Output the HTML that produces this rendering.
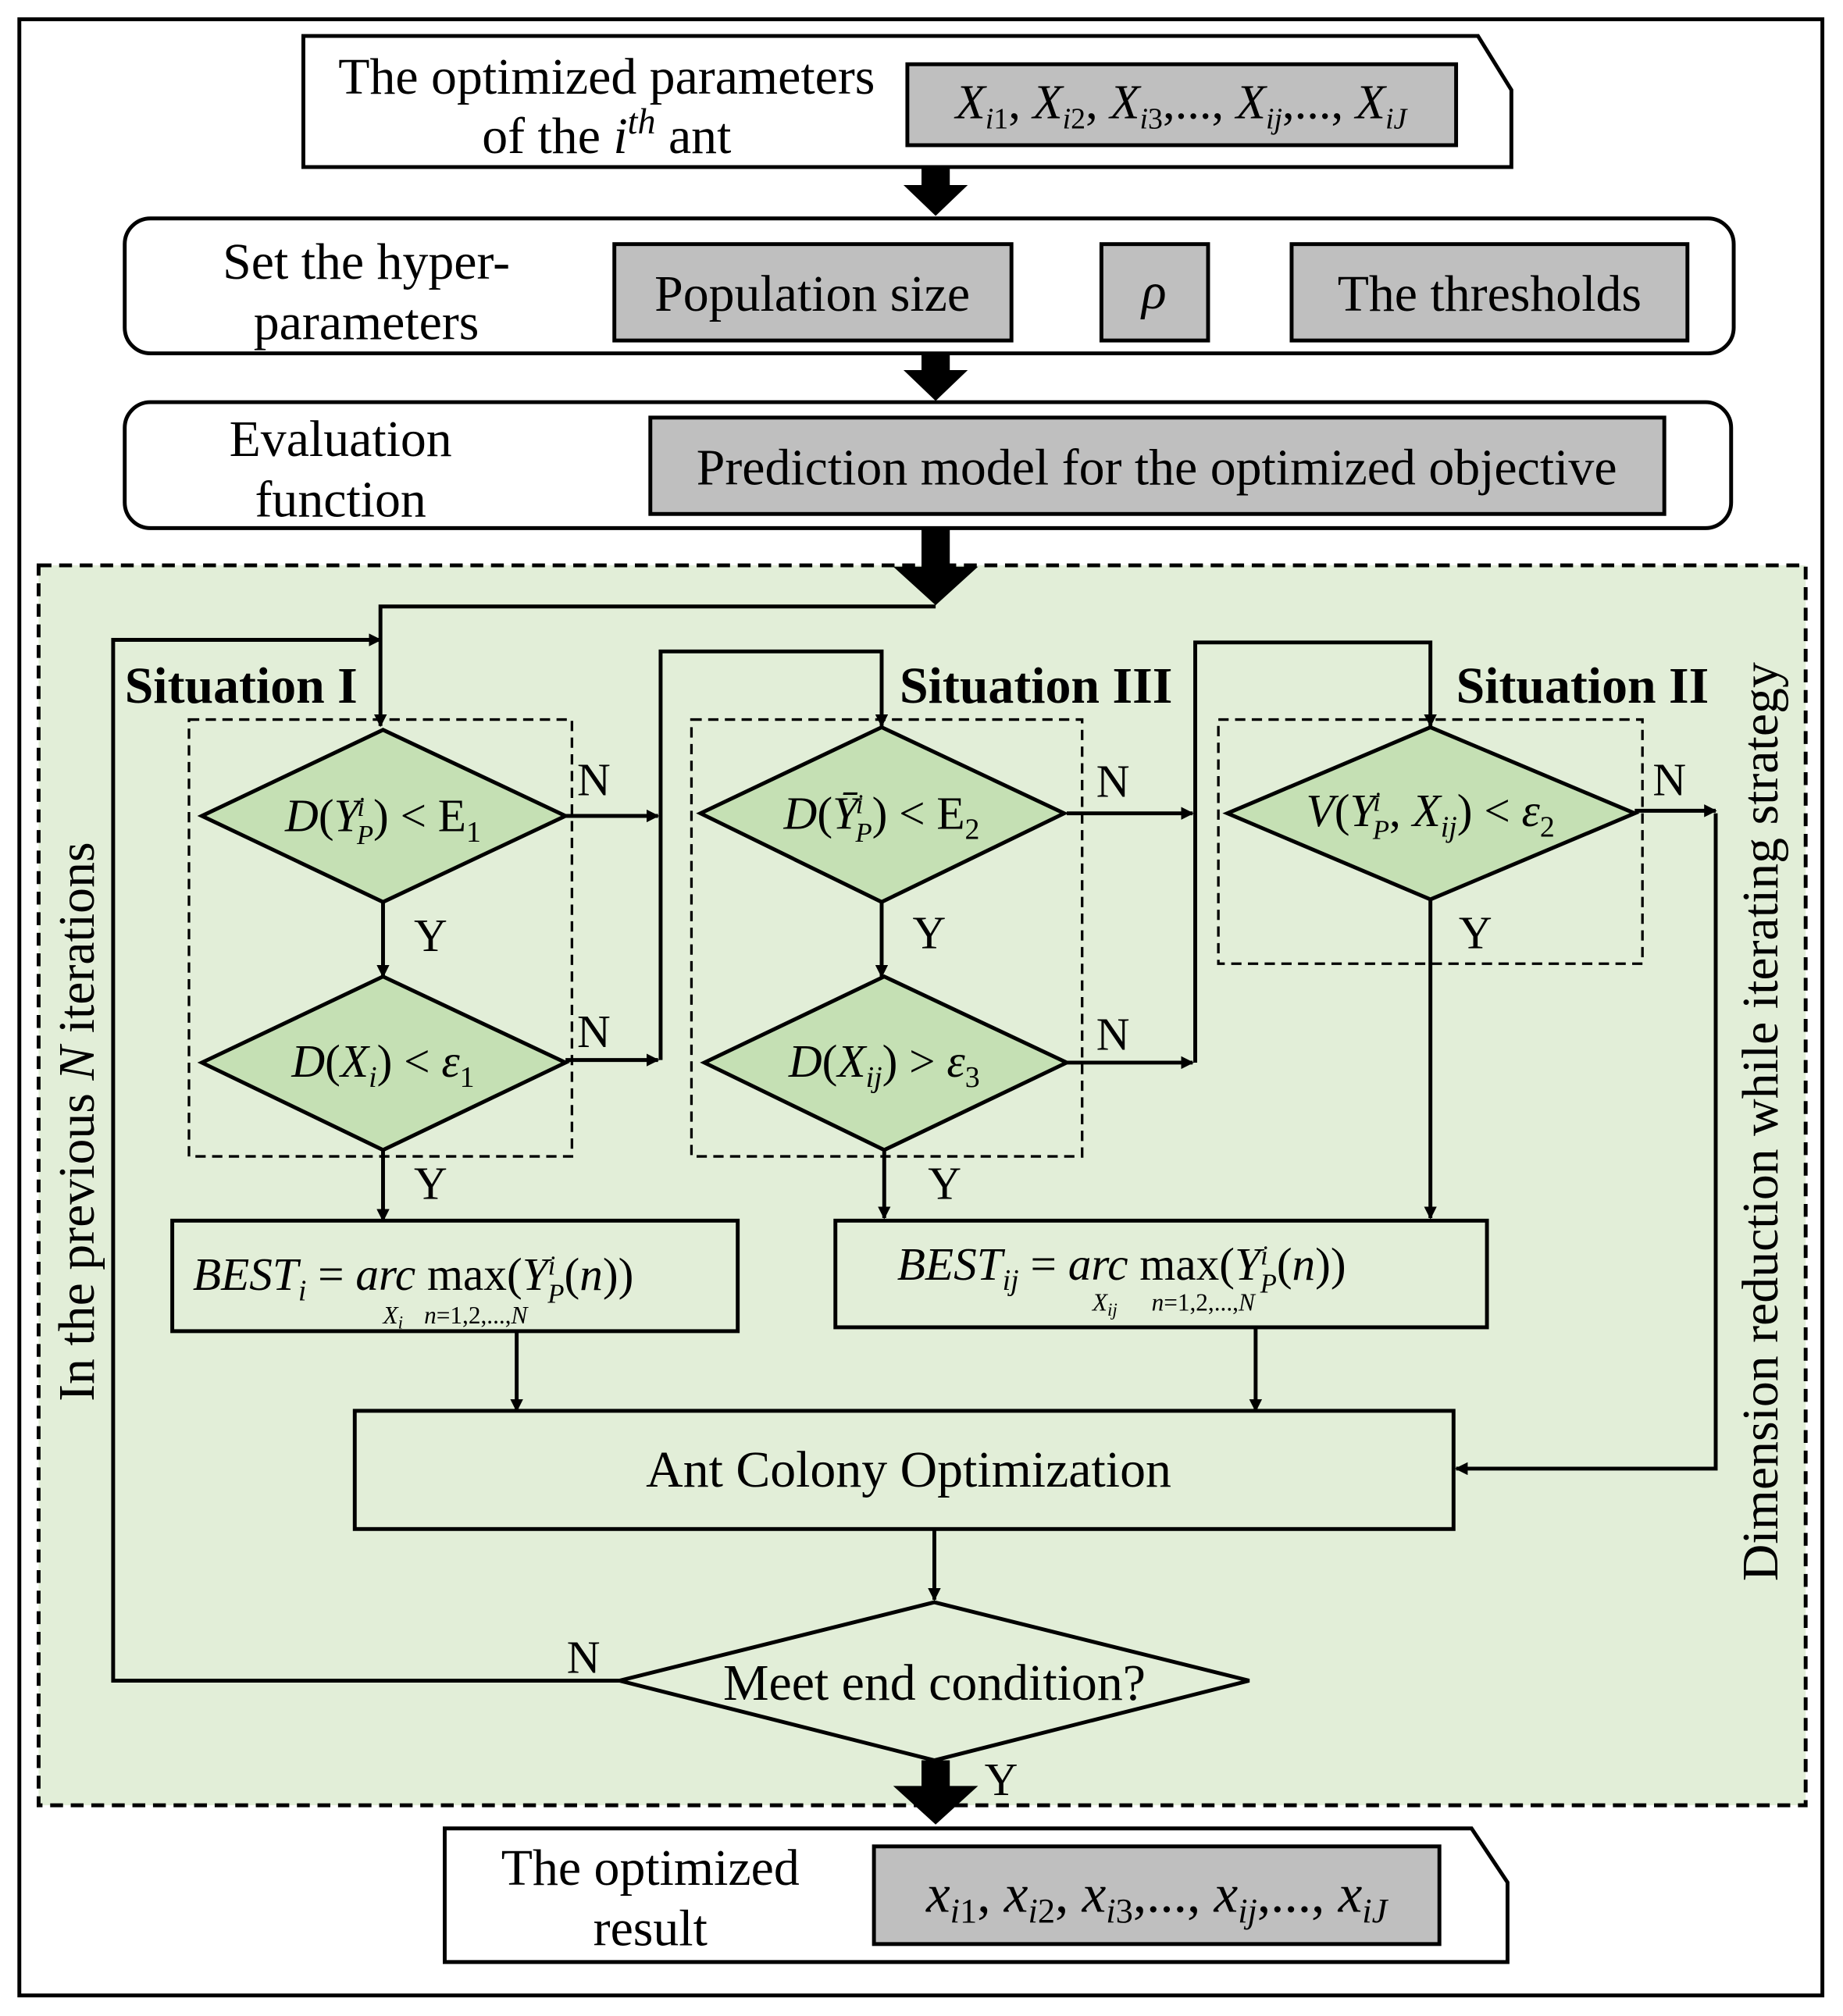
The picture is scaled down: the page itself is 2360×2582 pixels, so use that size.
<!DOCTYPE html>
<html><head><meta charset="utf-8"><style>
html,body{margin:0;padding:0;background:#fff}
svg{display:block}
text{font-family:"Liberation Serif",serif;fill:#000}
</style></head><body>
<svg width="2360" height="2582" viewBox="0 0 1434 1569" xmlns="http://www.w3.org/2000/svg">
<defs>
<marker id="a" markerWidth="10" markerHeight="10" refX="9" refY="5" orient="auto" markerUnits="userSpaceOnUse" viewBox="0 0 10 10">
<path d="M0,0 L10,5 L0,10 z" fill="#000"/></marker>
</defs>
<rect x="0" y="0" width="1434" height="1569" fill="#fff"/>
<rect x="15" y="15" width="1403" height="1538" fill="none" stroke="#000" stroke-width="3"/>

<path d="M236,28 L1150,28 L1176,70 L1176,130 L236,130 Z" fill="#fff" stroke="#000" stroke-width="3"/>
<text x="472" y="73" font-size="40" text-anchor="middle">The optimized parameters</text>
<text x="472" y="119" font-size="40" text-anchor="middle">of the <tspan font-style="italic">i</tspan><tspan font-style="italic" font-size="28" dy="-15">th</tspan><tspan dy="15"> ant</tspan></text>
<rect x="706" y="50" width="427" height="63" fill="#bfbfbf" stroke="#000" stroke-width="3"/>
<text x="919" y="92" font-size="38" text-anchor="middle" font-style="italic">X<tspan font-size="23" dy="8">i</tspan><tspan font-size="23" font-style="normal">1</tspan><tspan dy="-8" font-style="normal">, </tspan>X<tspan font-size="23" dy="8">i</tspan><tspan font-size="23" font-style="normal">2</tspan><tspan dy="-8" font-style="normal">, </tspan>X<tspan font-size="23" dy="8">i</tspan><tspan font-size="23" font-style="normal">3</tspan><tspan dy="-8" font-style="normal">,..., </tspan>X<tspan font-size="23" dy="8">ij</tspan><tspan dy="-8" font-style="normal">,..., </tspan>X<tspan font-size="23" dy="8">iJ</tspan></text>

<path d="M717,130 h22 v14 h14 l-25,24 l-25,-24 h14 z" fill="#000"/>
<path d="M717,275 h22 v13 h14 l-25,24 l-25,-24 h14 z" fill="#000"/>

<rect x="97" y="170" width="1252" height="105" rx="20" fill="#fff" stroke="#000" stroke-width="3"/>
<text x="285" y="217" font-size="40" text-anchor="middle">Set the hyper-</text>
<text x="285" y="264" font-size="40" text-anchor="middle">parameters</text>
<rect x="478" y="190" width="309" height="75" fill="#bfbfbf" stroke="#000" stroke-width="3"/>
<text x="632" y="242" font-size="40" text-anchor="middle">Population size</text>
<rect x="857" y="190" width="83" height="75" fill="#bfbfbf" stroke="#000" stroke-width="3"/>
<text x="898" y="240" font-size="40" text-anchor="middle" font-style="italic">ρ</text>
<rect x="1005" y="190" width="308" height="75" fill="#bfbfbf" stroke="#000" stroke-width="3"/>
<text x="1159" y="242" font-size="40" text-anchor="middle">The thresholds</text>

<rect x="97" y="313" width="1250" height="98" rx="20" fill="#fff" stroke="#000" stroke-width="3"/>
<text x="265" y="355" font-size="40" text-anchor="middle">Evaluation</text>
<text x="265" y="402" font-size="40" text-anchor="middle">function</text>
<rect x="506" y="325" width="789" height="75" fill="#bfbfbf" stroke="#000" stroke-width="3"/>
<text x="900" y="377" font-size="40" text-anchor="middle">Prediction model for the optimized objective</text>

<rect x="30" y="440" width="1375" height="965" fill="#e2eed8" stroke="#000" stroke-width="3" stroke-dasharray="10,6"/>
<path d="M717,411 h22 v30 h22 l-33,30 l-33,-30 h22 z" fill="#000"/>

<g stroke="#000" stroke-width="3" fill="none">
<polyline points="728,472 296,472 296,565" marker-end="url(#a)"/>
<polyline points="482,1308 88,1308 88,498 296,498" marker-end="url(#a)"/>
<rect x="147" y="560" width="298" height="340" stroke-dasharray="8,5" stroke-width="2"/>
<line x1="298" y1="702" x2="298" y2="760" marker-end="url(#a)"/>
<line x1="298" y1="895" x2="298" y2="950" marker-end="url(#a)"/>
<line x1="440" y1="635" x2="512" y2="635" marker-end="url(#a)"/>
<line x1="440" y1="825" x2="512" y2="825" marker-end="url(#a)"/>
<polyline points="514,825 514,507 686,507 686,565" marker-end="url(#a)"/>
<rect x="538" y="560" width="304" height="340" stroke-dasharray="8,5" stroke-width="2"/>
<line x1="686" y1="702" x2="686" y2="760" marker-end="url(#a)"/>
<line x1="688" y1="895" x2="688" y2="948" marker-end="url(#a)"/>
<line x1="830" y1="633" x2="928" y2="633" marker-end="url(#a)"/>
<line x1="830" y1="827" x2="928" y2="827" marker-end="url(#a)"/>
<polyline points="930,827 930,500 1113,500 1113,565" marker-end="url(#a)"/>
<rect x="948" y="560" width="330" height="190" stroke-dasharray="8,5" stroke-width="2"/>
<line x1="1113" y1="700" x2="1113" y2="948" marker-end="url(#a)"/>
<line x1="1272" y1="631" x2="1335" y2="631" marker-end="url(#a)"/>
<polyline points="1335,633 1335,1143 1133,1143" marker-end="url(#a)"/>
<line x1="402" y1="1036" x2="402" y2="1098" marker-end="url(#a)"/>
<line x1="977" y1="1033" x2="977" y2="1098" marker-end="url(#a)"/>
<line x1="727" y1="1190" x2="727" y2="1245" marker-end="url(#a)"/>
</g>

<g fill="#c5e0b4" stroke="#000" stroke-width="3">
<polygon points="157,635 298,568 440,635 298,702"/>
<polygon points="157,827 298,760 440,827 298,895"/>
<polygon points="545,633 686,566 828,633 686,702"/>
<polygon points="548,827 688,760 830,827 688,895"/>
<polygon points="955,633 1113,566 1272,633 1113,700"/>
</g>
<polygon points="482,1308 727,1247 972,1308 727,1370" fill="#e2eed8" stroke="#000" stroke-width="3"/>

<g font-size="36" font-style="italic">
<text x="298" y="647" text-anchor="middle">D<tspan font-style="normal">(</tspan>Y<tspan font-size="21" dx="-2" dy="-12">i</tspan><tspan font-size="21" dx="-6" dy="22">P</tspan><tspan font-style="normal" dy="-10">) &lt; E</tspan><tspan font-style="normal" font-size="23" dy="8">1</tspan></text>
<text x="298" y="838" text-anchor="middle">D<tspan font-style="normal">(</tspan>X<tspan font-size="23" dy="8">i</tspan><tspan font-style="normal" dy="-8">) &lt; </tspan>ε<tspan font-style="normal" font-size="23" dy="8">1</tspan></text>
<text x="686" y="645" text-anchor="middle">D<tspan font-style="normal">(</tspan>Ȳ<tspan font-size="21" dx="-2" dy="-12">i</tspan><tspan font-size="21" dx="-6" dy="22">P</tspan><tspan font-style="normal" dy="-10">) &lt; E</tspan><tspan font-style="normal" font-size="23" dy="8">2</tspan></text>
<text x="688" y="838" text-anchor="middle">D<tspan font-style="normal">(</tspan>X<tspan font-size="23" dy="8">ij</tspan><tspan font-style="normal" dy="-8">) &gt; </tspan>ε<tspan font-style="normal" font-size="23" dy="8">3</tspan></text>
<text x="1113" y="643" text-anchor="middle">V<tspan font-style="normal">(</tspan>Y<tspan font-size="21" dx="-2" dy="-12">i</tspan><tspan font-size="21" dx="-6" dy="22">P</tspan><tspan font-style="normal" dy="-10">, </tspan>X<tspan font-size="23" dy="8">ij</tspan><tspan font-style="normal" dy="-8">) &lt; </tspan>ε<tspan font-style="normal" font-size="23" dy="8">2</tspan></text>
</g>

<g font-size="36">
<text x="97" y="547" font-weight="bold" font-size="40">Situation I</text>
<text x="700" y="547" font-weight="bold" font-size="40">Situation III</text>
<text x="1133" y="547" font-weight="bold" font-size="40">Situation II</text>
<text x="322" y="740">Y</text>
<text x="322" y="933">Y</text>
<text x="710" y="738">Y</text>
<text x="722" y="933">Y</text>
<text x="1135" y="738">Y</text>
<text x="449" y="619">N</text>
<text x="449" y="815">N</text>
<text x="853" y="620">N</text>
<text x="853" y="817">N</text>
<text x="1286" y="619">N</text>
<text x="441" y="1302">N</text>
<text x="766" y="1397">Y</text>
</g>

<rect x="134" y="950" width="440" height="86" fill="#e2eed8" stroke="#000" stroke-width="3"/>
<text x="150" y="1004" font-size="36"><tspan font-style="italic">BEST</tspan><tspan font-style="italic" font-size="23" dy="8">i</tspan><tspan dy="-8"> = </tspan><tspan font-style="italic">arc</tspan><tspan>  max</tspan><tspan>(</tspan><tspan font-style="italic">Y</tspan><tspan font-style="italic" font-size="21" dy="-12">i</tspan><tspan font-style="italic" font-size="21" dx="-6" dy="22">P</tspan><tspan dy="-10">(</tspan><tspan font-style="italic">n</tspan><tspan>))</tspan></text>
<text x="298" y="1030" font-size="19" font-style="italic">X<tspan font-size="14" dy="4">i</tspan></text>
<text x="330" y="1030" font-size="19"><tspan font-style="italic">n</tspan>=1,2,...,<tspan font-style="italic">N</tspan></text>
<rect x="650" y="950" width="507" height="83" fill="#e2eed8" stroke="#000" stroke-width="3"/>
<text x="698" y="996" font-size="36"><tspan font-style="italic">BEST</tspan><tspan font-style="italic" font-size="23" dy="8">ij</tspan><tspan dy="-8"> = </tspan><tspan font-style="italic">arc</tspan><tspan>  max</tspan><tspan>(</tspan><tspan font-style="italic">Y</tspan><tspan font-style="italic" font-size="21" dy="-12">i</tspan><tspan font-style="italic" font-size="21" dx="-6" dy="22">P</tspan><tspan dy="-10">(</tspan><tspan font-style="italic">n</tspan><tspan>))</tspan></text>
<text x="850" y="1020" font-size="19" font-style="italic">X<tspan font-size="14" dy="4">ij</tspan></text>
<text x="896" y="1020" font-size="19"><tspan font-style="italic">n</tspan>=1,2,...,<tspan font-style="italic">N</tspan></text>

<rect x="276" y="1098" width="855" height="92" fill="#e2eed8" stroke="#000" stroke-width="3"/>
<text x="707" y="1157" font-size="40" text-anchor="middle">Ant Colony Optimization</text>
<text x="727" y="1323" font-size="40" text-anchor="middle">Meet end condition?</text>

<text transform="translate(73,873) rotate(-90)" font-size="40" text-anchor="middle">In the previous <tspan font-style="italic">N</tspan> iterations</text>
<text transform="translate(1383,873) rotate(-90)" font-size="40" text-anchor="middle">Dimension reduction while iterating strategy</text>

<path d="M717,1370 h22 v20 h22 l-33,30 l-33,-30 h22 z" fill="#000"/>
<path d="M346,1423 L1145,1423 L1173,1465 L1173,1527 L346,1527 Z" fill="#fff" stroke="#000" stroke-width="3"/>
<text x="506" y="1467" font-size="40" text-anchor="middle">The optimized</text>
<text x="506" y="1514" font-size="40" text-anchor="middle">result</text>
<rect x="680" y="1437" width="440" height="76" fill="#bfbfbf" stroke="#000" stroke-width="3"/>
<text x="900" y="1488" font-size="42" text-anchor="middle" font-style="italic">x<tspan font-size="27" dy="8">i</tspan><tspan font-size="27" font-style="normal">1</tspan><tspan dy="-8" font-style="normal">, </tspan>x<tspan font-size="27" dy="8">i</tspan><tspan font-size="27" font-style="normal">2</tspan><tspan dy="-8" font-style="normal">, </tspan>x<tspan font-size="27" dy="8">i</tspan><tspan font-size="27" font-style="normal">3</tspan><tspan dy="-8" font-style="normal">,..., </tspan>x<tspan font-size="27" dy="8">ij</tspan><tspan dy="-8" font-style="normal">,..., </tspan>x<tspan font-size="27" dy="8">iJ</tspan></text>
</svg>
</body></html>
